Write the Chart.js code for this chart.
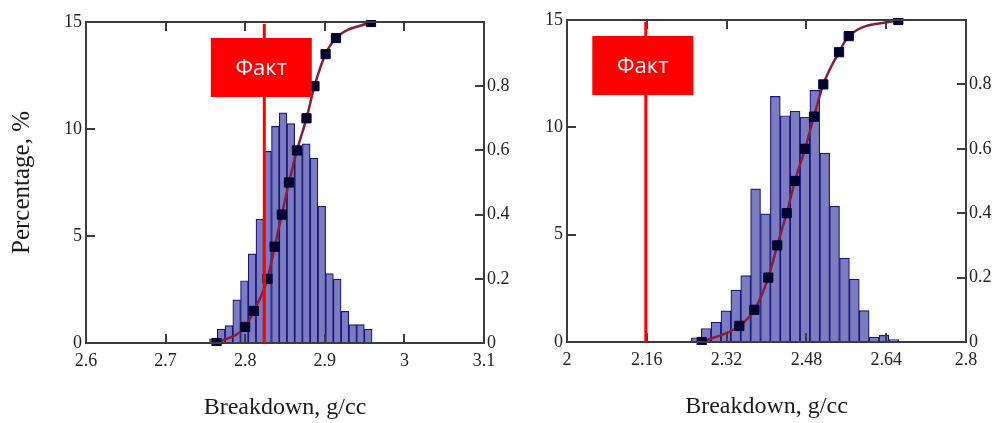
<!DOCTYPE html>
<html>
<head>
<meta charset="utf-8">
<script src="https://cdn.jsdelivr.net/npm/chart.js@4/dist/chart.umd.min.js"></script>
<style>
  html, body { margin: 0; padding: 0; background: #fff; width: 994px; height: 423px; overflow: hidden; }
  canvas { position: absolute; top: 0; }
  #leftChart { left: 0; }
  #rightChart { left: 500px; }
</style>
</head>
<body>
<canvas id="leftChart" width="530" height="423" style="width:530px;height:423px"></canvas>
<canvas id="rightChart" width="494" height="423" style="width:494px;height:423px"></canvas>
<script>
// Cumulative probability levels shared by both distributions
const cdfLevels = [0, 0.05, 0.1, 0.2, 0.3, 0.4, 0.5, 0.6, 0.7, 0.8, 0.9, 0.95, 1];

// Left panel: bin centres (g/cc) and share of realisations (%)
const leftBins = [2.7601, 2.7698, 2.7795, 2.7893, 2.7990, 2.8087, 2.8184, 2.8281, 2.8379, 2.8476, 2.8573,
                  2.8670, 2.8767, 2.8865, 2.8962, 2.9059, 2.9156, 2.9253, 2.9351, 2.9448, 2.9545];
const leftPct  = [0.2, 0.65, 0.81, 2.02, 2.91, 4.17, 5.79, 8.96, 10.12, 10.75, 10.25,
                  9.0, 9.31, 8.64, 6.39, 3.24, 2.99, 1.48, 0.86, 0.86, 0.65];
const leftCdfX = [2.764, 2.800, 2.811, 2.828, 2.837, 2.846, 2.855, 2.865, 2.877, 2.887, 2.901, 2.914, 2.958];
const leftFact = 2.824;
const leftXTicks = [2.6, 2.7, 2.8, 2.9, 3, 3.1];

// Right panel
const rightBins = [2.2593, 2.2791, 2.2989, 2.3187, 2.3385, 2.3583, 2.3781, 2.3979, 2.4177, 2.4375, 2.4573,
                   2.4771, 2.4969, 2.5167, 2.5365, 2.5563, 2.5761, 2.5959, 2.6157, 2.6355, 2.6553];
const rightPct  = [0.2, 0.63, 0.92, 1.45, 2.42, 3.09, 7.13, 5.97, 11.44, 10.54, 10.75,
                   10.47, 11.72, 8.8, 6.32, 3.91, 2.93, 1.46, 0.23, 0.31, 0.11];
const rightCdfX = [2.270, 2.3455, 2.3756, 2.4036, 2.4216, 2.4405, 2.4571, 2.4772, 2.4952, 2.5139, 2.5454, 2.5649, 2.6643];
const rightFact = 2.158;
const rightXTicks = [2, 2.16, 2.32, 2.48, 2.64, 2.8];

const pctTicks = [0, 5, 10, 15];
const probTicks = [0, 0.2, 0.4, 0.6, 0.8, 1];

const factLabel = 'Факт';
const xTitle = 'Breakdown, g/cc';
const yTitle = 'Percentage, %';

const SERIF = '"Liberation Serif", "Times New Roman", serif';
const TEXT = '#222222';
const FRAME = '#3c3c3c';

// Boxed plot frame with inward tick marks, plus the measured-value marker
const framePlugin = {
  id: 'frame',
  afterDatasetsDraw(chart, args, opts) {
    const { ctx, chartArea: a, scales } = chart;
    const TL = 9;
    ctx.save();
    ctx.strokeStyle = FRAME;
    ctx.lineWidth = 2;
    ctx.beginPath();
    scales.x.ticks.forEach(t => {
      const px = Math.round(scales.x.getPixelForValue(t.value));
      if (px <= a.left + 2 || px >= a.right - 2) return;
      ctx.moveTo(px, a.bottom); ctx.lineTo(px, a.bottom - TL);
      ctx.moveTo(px, a.top); ctx.lineTo(px, a.top + TL);
    });
    scales.y.ticks.forEach(t => {
      const py = Math.round(scales.y.getPixelForValue(t.value));
      if (py <= a.top + 2 || py >= a.bottom - 2) return;
      ctx.moveTo(a.left, py); ctx.lineTo(a.left + TL, py);
    });
    scales.y2.ticks.forEach(t => {
      const py = Math.round(scales.y2.getPixelForValue(t.value));
      if (py <= a.top + 2 || py >= a.bottom - 2) return;
      ctx.moveTo(a.right, py); ctx.lineTo(a.right - TL, py);
    });
    ctx.stroke();
    ctx.strokeRect(a.left, a.top, a.right - a.left, a.bottom - a.top);

    // measured value line
    const fx = scales.x.getPixelForValue(opts.value);
    ctx.strokeStyle = '#ff0000';
    ctx.lineWidth = 3;
    ctx.beginPath();
    ctx.moveTo(fx, a.top + 2);
    ctx.lineTo(fx, a.bottom);
    ctx.stroke();

    // label box
    const bw = 101, bh = 59;
    const bx = fx - 3 - bw / 2, by = a.top + 16;
    ctx.fillStyle = '#ff0000';
    ctx.fillRect(bx, by, bw, bh);
    ctx.fillStyle = '#ffffff';
    ctx.font = '22px "Open Sans", "Noto Sans", sans-serif';
    ctx.textAlign = 'center';
    ctx.textBaseline = 'middle';
    ctx.fillText(opts.label, bx + bw / 2, by + bh / 2 + 1);
    ctx.restore();
  }
};

function fixedTicks(list) {
  return scale => { scale.ticks = list.map(v => ({ value: v })); };
}

function buildPanel(canvas, p) {
  return new Chart(canvas, {
    type: 'bar',
    data: {
      datasets: [
        {
          type: 'line',
          data: p.cdfX.map((x, i) => ({ x, y: cdfLevels[i] })),
          yAxisID: 'y2',
          order: 0,
          borderColor: '#8c1b3c',
          borderWidth: 2.5,
          cubicInterpolationMode: 'monotone',
          pointStyle: 'rect',
          pointRadius: 6.5,
          pointBorderWidth: 1,
          pointBackgroundColor: '#00002e',
          pointBorderColor: '#00002e',
          clip: { left: 6, top: 2, right: 6, bottom: 3 }
        },
        {
          type: 'bar',
          data: p.bins.map((x, i) => ({ x, y: p.pct[i] })),
          yAxisID: 'y',
          order: 1,
          backgroundColor: '#7c7cc0',
          borderColor: '#16167e',
          borderWidth: 1.2,
          borderSkipped: false,
          barPercentage: 1,
          categoryPercentage: 1,
          grouped: false
        }
      ]
    },
    options: {
      responsive: false,
      animation: false,
      events: [],
      layout: { padding: { top: p.top, left: 0, right: 0, bottom: 0 } },
      plugins: {
        legend: { display: false },
        tooltip: { enabled: false },
        frame: { value: p.fact, label: factLabel }
      },
      scales: {
        x: {
          type: 'linear',
          offset: false,
          min: p.xTicks[0],
          max: p.xTicks[p.xTicks.length - 1],
          afterBuildTicks: fixedTicks(p.xTicks),
          afterFit: s => { s.height = p.xH; },
          grid: { display: false, drawTicks: false, offset: false },
          border: { display: false },
          ticks: {
            autoSkip: false, maxRotation: 0, padding: 7,
            font: { family: SERIF, size: 18 }, color: TEXT,
            callback: v => String(v)
          },
          title: {
            display: true, text: xTitle, color: '#1a1a1a',
            font: { family: SERIF, size: 24 },
            padding: { top: 0, bottom: p.xTitlePad }
          }
        },
        y: {
          position: 'left',
          min: 0, max: 15,
          afterBuildTicks: fixedTicks(pctTicks),
          afterFit: s => { s.width = p.yW; },
          grid: { display: false, drawTicks: false },
          border: { display: false },
          ticks: {
            autoSkip: false, padding: 4,
            font: { family: SERIF, size: 18 }, color: TEXT,
            callback: v => String(v)
          },
          title: {
            display: p.showYTitle, text: yTitle, color: '#1a1a1a',
            font: { family: SERIF, size: 25 },
            padding: { top: 7, bottom: 0 }
          }
        },
        y2: {
          position: 'right',
          min: 0, max: 1,
          afterBuildTicks: fixedTicks(probTicks),
          afterFit: s => { s.width = p.y2W; },
          grid: { display: false, drawTicks: false },
          border: { display: false },
          ticks: {
            autoSkip: false, padding: 3,
            font: { family: SERIF, size: 18 }, color: TEXT,
            callback: v => (v >= 1 ? '' : (v === 0 ? '0' : v.toFixed(1)))
          }
        }
      }
    },
    plugins: [framePlugin]
  });
}

buildPanel(document.getElementById('leftChart'), {
  bins: leftBins, pct: leftPct, cdfX: leftCdfX, fact: leftFact, xTicks: leftXTicks,
  top: 22, xH: 80, yW: 86, y2W: 46, xTitlePad: 1, showYTitle: true
});

buildPanel(document.getElementById('rightChart'), {
  bins: rightBins, pct: rightPct, cdfX: rightCdfX, fact: rightFact, xTicks: rightXTicks,
  top: 20, xH: 81, yW: 67, y2W: 28, xTitlePad: 2, showYTitle: false
});
</script>
</body>
</html>
